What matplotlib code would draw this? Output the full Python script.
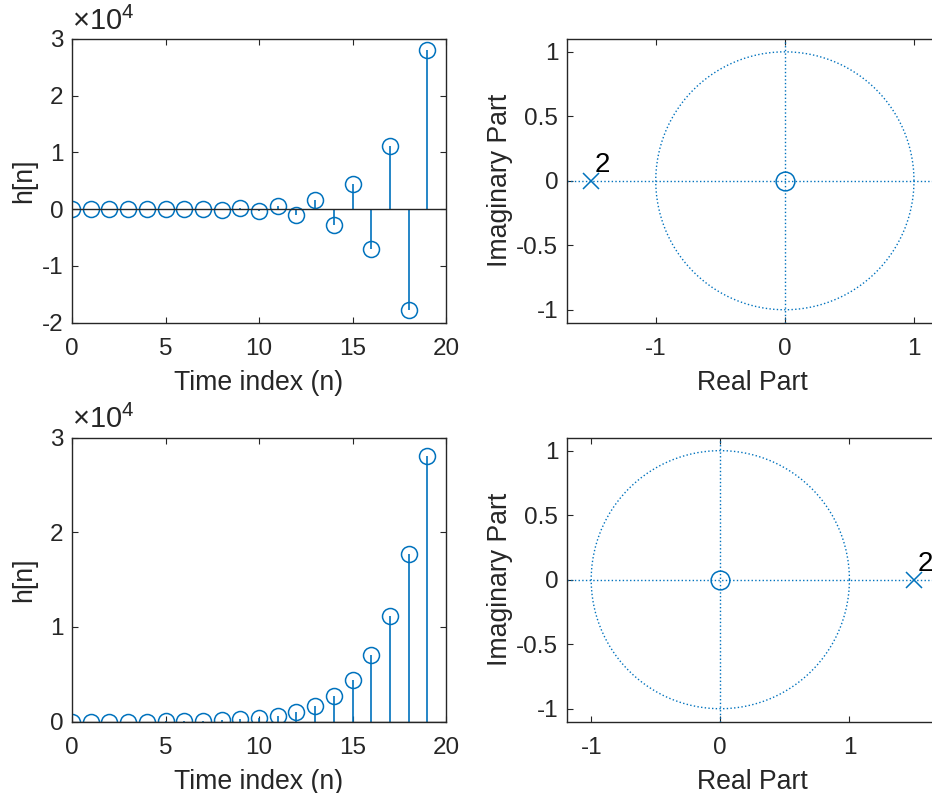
import matplotlib.pyplot as plt
import numpy as np

# values
n = list(range(20))
h_alt = [0, 1, -3, 6.75, -13.5, 25.3, -45.6, 79.7, -136.7, 230.7, -384.4,
         633.5, -1038, 1687, -2725, 4379, -7006, 11165, -17742, 28101]
h_pos = [0, 1, 3, 6.75, 13.5, 25.3, 45.6, 79.7, 136.7, 230.7, 384.4,
         633.5, 1038, 1687, 2725, 4379, 7006, 11165, 17742, 28101]
zeros_top, poles_top = [0.0], [-1.5]
zeros_bot, poles_bot = [0.0], [1.5]
pole_mult = 2

blue = '#0072BD'
axc = '#262626'
plt.rcParams['font.family'] = ['Liberation Sans', 'DejaVu Sans']
plt.rcParams['axes.unicode_minus'] = False
plt.rcParams['mathtext.fontset'] = 'custom'
plt.rcParams['mathtext.rm'] = 'Liberation Sans'
plt.rcParams['mathtext.it'] = 'Liberation Sans'

fig = plt.figure(figsize=(9.32, 7.93), dpi=100)
TICK = 17.5
LAB = 19.2


def style(ax):
    ax.tick_params(direction='in', length=4, width=0.8, top=True, right=True,
                   labelsize=TICK, colors=axc)
    ax.tick_params(axis='x', pad=11)
    ax.tick_params(axis='y', pad=6)
    for s in ax.spines.values():
        s.set_color(axc)
        s.set_linewidth(1.0)


def stem_plot(ax, h, ylim, yticks):
    ax.vlines(n, 0, h, color=blue, lw=1.2)
    ax.plot(n, h, 'o', mfc='none', mec=blue, ms=11.5, mew=1.1)
    ax.axhline(0, color=axc, lw=1.0)
    ax.set_xlim(0, 20)
    ax.set_ylim(*ylim)
    ax.set_xticks([0, 5, 10, 15, 20])
    ax.set_yticks(yticks)
    ax.set_yticklabels(['%d' % (t / 1e4) for t in yticks])
    ax.set_xlabel('Time index (n)', fontsize=LAB, color=axc, labelpad=7)
    ax.set_ylabel('h[n]', fontsize=LAB, color=axc)
    ax.yaxis.set_label_coords(-0.093, 0.5)
    ax.text(0.0, 1.012, '×10$^{4}$', transform=ax.transAxes, fontsize=21,
            color=axc, ha='left', va='bottom')
    style(ax)


def zplane(ax, zs, ps, xlim):
    t = np.linspace(0, 2 * np.pi, 400)
    ax.plot(np.cos(t), np.sin(t), ':', color=blue, lw=1.0)
    ax.axhline(0, ls=':', color=blue, lw=1.0)
    ax.axvline(0, ls=':', color=blue, lw=1.0)
    ax.plot(np.real(zs), np.imag(zs), 'o', mfc='none', mec=blue, ms=13.5, mew=1.1)
    ax.plot(np.real(ps), np.imag(ps), 'x', color=blue, ms=11, mew=1.1)
    for p in ps:
        ax.text(p + 0.03, 0.02, str(pole_mult), fontsize=20, color='k',
                ha='left', va='bottom')
    ax.set_xlim(*xlim)
    ax.set_ylim(-1.1, 1.1)
    ax.set_xticks([-1, 0, 1])
    ax.set_yticks([-1, -0.5, 0, 0.5, 1])
    ax.set_yticklabels(['-1', '-0.5', '0', '0.5', '1'])
    ax.set_xlabel('Real Part', fontsize=LAB, color=axc, labelpad=7)
    ax.set_ylabel('Imaginary Part', fontsize=LAB, color=axc)
    ax.yaxis.set_label_coords(-0.145, 0.5)
    style(ax)


ax1 = fig.add_axes([0.0773, 0.5931, 0.4013, 0.3578])
stem_plot(ax1, h_alt, (-2e4, 3e4), [-2e4, -1e4, 0, 1e4, 2e4, 3e4])

ax3 = fig.add_axes([0.0773, 0.0900, 0.4013, 0.3580])
stem_plot(ax3, h_pos, (0, 3e4), [0, 1e4, 2e4, 3e4])

ax2 = fig.add_axes([0.608, 0.5931, 0.399, 0.3578])
zplane(ax2, zeros_top, poles_top, (-1.69, 1.19))

ax4 = fig.add_axes([0.608, 0.0900, 0.399, 0.3580])
zplane(ax4, zeros_bot, poles_bot, (-1.19, 1.69))

fig.savefig('out.png', dpi=100)
